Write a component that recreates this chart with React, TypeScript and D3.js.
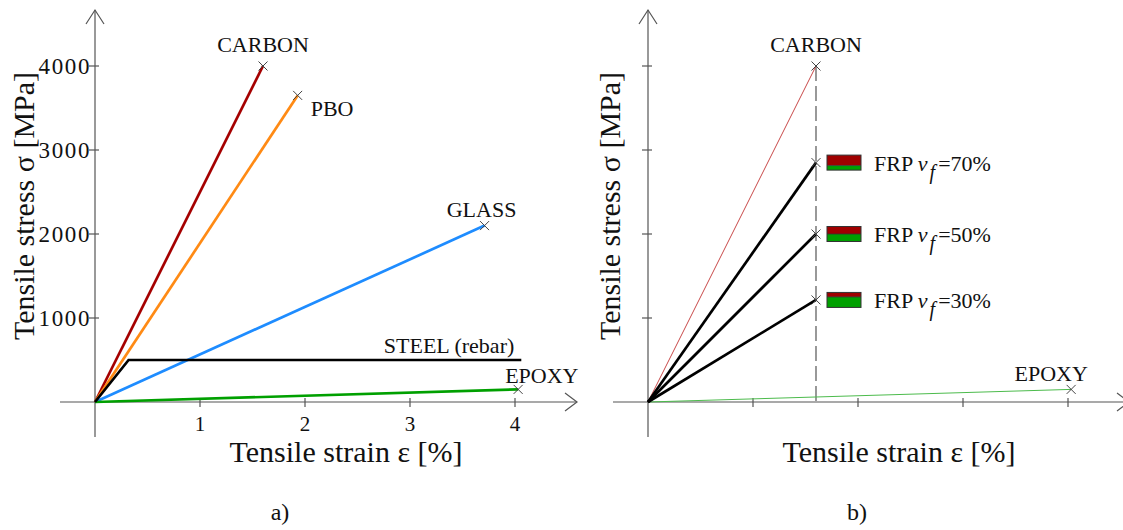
import React from "react";
import * as d3 from "d3";

// Axis ticks
const strainTicks = [1, 2, 3, 4];
const stressTicks = [1000, 2000, 3000, 4000];

// Linear-elastic materials: failure point (strain %, stress MPa)
const materialNames = ["CARBON", "PBO", "GLASS", "EPOXY"];
const failureStrain = [1.6, 1.93, 3.71, 4.03];
const failureStress = [4000, 3650, 2100, 150];

// Steel rebar: elastic-perfectly plastic
const steelStrain = [0, 0.32, 4.06];
const steelStress = [0, 500, 500];

// Carbon FRP laminates for several fibre volume fractions
const fibreVolume = [70, 50, 30];
const frpStrain = [1.6, 1.6, 1.6];
const frpStress = [2850, 2000, 1215];

const materialColor: Record<string, string> = {
  CARBON: "#a50000",
  PBO: "#ff8a14",
  GLASS: "#1e8cff",
  EPOXY: "#00a000",
};

const FONT = "'Liberation Serif', 'Times New Roman', serif";
const AXIS = "#555";

const W = 1123;
const H = 530;

const yScale = d3.scaleLinear().domain([0, 4000]).range([402, 66]);
const xLeft = d3.scaleLinear().domain([0, 4]).range([95, 515]);
const xRight = d3.scaleLinear().domain([0, 4]).range([648, 1068]);

function Cross({ x, y }: { x: number; y: number }) {
  const s = 4.5;
  return (
    <path
      d={`M${x - s},${y - s}L${x + s},${y + s}M${x - s},${y + s}L${x + s},${y - s}`}
      stroke="#444"
      strokeWidth={1}
      fill="none"
    />
  );
}

function Axes({
  x,
  xStart,
  xEnd,
  labels,
}: {
  x: d3.ScaleLinear<number, number>;
  xStart: number;
  xEnd: number;
  labels: boolean;
}) {
  const x0 = x(0);
  const y0 = yScale(0);
  return (
    <g stroke={AXIS} strokeWidth={1.2} fill="none">
      <line x1={x0} y1={437} x2={x0} y2={10} />
      <path d={`M${x0 - 9},24L${x0},10L${x0 + 9},24`} />
      <line x1={xStart} y1={y0} x2={xEnd} y2={y0} />
      <path d={`M${xEnd - 12},${y0 - 9}L${xEnd},${y0}L${xEnd - 12},${y0 + 9}`} />
      {stressTicks.map((t) => (
        <line key={"yt" + t} x1={x0 - 6} x2={x0 + 4} y1={yScale(t)} y2={yScale(t)} />
      ))}
      {strainTicks.map((t) => (
        <line key={"xt" + t} x1={x(t)} x2={x(t)} y1={y0 - 4} y2={y0 + 5} />
      ))}
      {labels &&
        stressTicks.map((t) => (
          <text
            key={"yl" + t}
            x={x0 - 4}
            y={yScale(t) + 8}
            textAnchor="end"
            fontSize={23}
            letterSpacing={1.6}
            fill="#111"
            stroke="none"
            fontFamily={FONT}
          >
            {t}
          </text>
        ))}
      {labels &&
        strainTicks.map((t) => (
          <text
            key={"xl" + t}
            x={x(t)}
            y={y0 + 29}
            textAnchor="middle"
            fontSize={21}
            fill="#111"
            stroke="none"
            fontFamily={FONT}
          >
            {t}
          </text>
        ))}
    </g>
  );
}

function Label({
  x,
  y,
  text,
  anchor = "start",
}: {
  x: number;
  y: number;
  text: string;
  anchor?: string;
}) {
  return (
    <text x={x} y={y} textAnchor={anchor} fontSize={22} fill="#111" fontFamily={FONT}>
      {text}
    </text>
  );
}

export default function App() {
  const line = (xs: d3.ScaleLinear<number, number>) =>
    d3
      .line<[number, number]>()
      .x((d) => xs(d[0]))
      .y((d) => yScale(d[1]));

  const lineL = line(xLeft);
  const lineR = line(xRight);

  const idx = (name: string) => materialNames.indexOf(name);
  const pt = (xs: d3.ScaleLinear<number, number>, name: string) => {
    const i = idx(name);
    return { x: xs(failureStrain[i]), y: yScale(failureStress[i]) };
  };

  const steelPts: [number, number][] = steelStrain.map((s, i) => [s, steelStress[i]]);

  // Label placement next to each failure point in panel a)
  const leftLabelOffset: Record<string, { dx: number; dy: number; anchor: string }> = {
    CARBON: { dx: 0, dy: -14, anchor: "middle" },
    PBO: { dx: 13, dy: 21, anchor: "start" },
    GLASS: { dx: -3, dy: -9, anchor: "middle" },
    EPOXY: { dx: -13, dy: -6, anchor: "start" },
  };

  const carbonR = pt(xRight, "CARBON");
  const epoxyR = pt(xRight, "EPOXY");

  return (
    <svg
      width={W}
      height={H}
      viewBox={`0 0 ${W} ${H}`}
      style={{ position: "absolute", left: 0, top: 0, background: "#fff" }}
    >
      <rect width={W} height={H} fill="#fff" />

      {/* ---------- Panel a) ---------- */}
      <Axes x={xLeft} xStart={60} xEnd={577} labels={true} />

      {materialNames.map((name, i) => (
        <path
          key={"l" + name}
          d={lineL([
            [0, 0],
            [failureStrain[i], failureStress[i]],
          ]) as string}
          stroke={materialColor[name]}
          strokeWidth={2.7}
          fill="none"
        />
      ))}
      <path d={lineL(steelPts) as string} stroke="#000" strokeWidth={2.7} fill="none" />

      {materialNames.map((name) => {
        const p = pt(xLeft, name);
        const o = leftLabelOffset[name];
        return (
          <g key={"m" + name}>
            <Cross x={p.x} y={p.y} />
            <Label x={p.x + o.dx} y={p.y + o.dy} text={name} anchor={o.anchor} />
          </g>
        );
      })}
      <Label
        x={xLeft(steelStrain[2]) - 7}
        y={yScale(steelStress[2]) - 7}
        text="STEEL (rebar)"
        anchor="end"
      />

      <text
        transform={`translate(34,206) rotate(-90)`}
        textAnchor="middle"
        fontSize={30}
        fill="#111"
        fontFamily={FONT}
      >
        Tensile stress σ [MPa]
      </text>
      <text x={346} y={462} textAnchor="middle" fontSize={30} fill="#111" fontFamily={FONT}>
        Tensile strain ε [%]
      </text>
      <text x={280} y={520} textAnchor="middle" fontSize={24} fill="#111" fontFamily={FONT}>
        a)
      </text>

      {/* ---------- Panel b) ---------- */}
      <Axes x={xRight} xStart={613} xEnd={1129} labels={false} />

      <line
        x1={carbonR.x}
        x2={carbonR.x}
        y1={carbonR.y}
        y2={yScale(0)}
        stroke={AXIS}
        strokeWidth={1.2}
        strokeDasharray="15,5"
      />

      <path
        d={lineR([
          [0, 0],
          [failureStrain[idx("CARBON")], failureStress[idx("CARBON")]],
        ]) as string}
        stroke="#c84848"
        strokeWidth={1}
        fill="none"
      />
      <path
        d={lineR([
          [0, 0],
          [failureStrain[idx("EPOXY")], failureStress[idx("EPOXY")]],
        ]) as string}
        stroke="#4cbb4c"
        strokeWidth={1}
        fill="none"
      />

      {fibreVolume.map((vf, i) => {
        const px = xRight(frpStrain[i]);
        const py = yScale(frpStress[i]);
        const rx = 827;
        const rw = 34;
        const rh = 15;
        const ry = py - rh / 2;
        const redH = (rh * vf) / 100;
        return (
          <g key={"frp" + vf}>
            <path
              d={lineR([
                [0, 0],
                [frpStrain[i], frpStress[i]],
              ]) as string}
              stroke="#000"
              strokeWidth={2.7}
              fill="none"
            />
            <Cross x={px} y={py} />
            <rect x={rx} y={ry} width={rw} height={redH} fill="#a00000" />
            <rect x={rx} y={ry + redH} width={rw} height={rh - redH} fill="#00a000" />
            <rect x={rx} y={ry} width={rw} height={rh} fill="none" stroke="#333" strokeWidth={1} />
            <line x1={rx} x2={rx + rw} y1={ry + redH} y2={ry + redH} stroke="#333" strokeWidth={0.8} />
            <text x={874} y={py + 8} fontSize={22} fill="#111" fontFamily={FONT}>
              FRP{" "}
              <tspan fontStyle="italic">v</tspan>
              <tspan fontStyle="italic" dx={2} dy={8} fontSize={20}>
                f
              </tspan>
              <tspan dx={3} dy={-8}>={vf}%</tspan>
            </text>
          </g>
        );
      })}

      <Cross x={carbonR.x} y={carbonR.y} />
      <Label x={carbonR.x} y={carbonR.y - 14} text="CARBON" anchor="middle" />
      <Cross x={epoxyR.x} y={epoxyR.y} />
      <Label x={epoxyR.x - 20} y={epoxyR.y - 8} text="EPOXY" anchor="middle" />

      <text
        transform={`translate(620,206) rotate(-90)`}
        textAnchor="middle"
        fontSize={30}
        fill="#111"
        fontFamily={FONT}
      >
        Tensile stress σ [MPa]
      </text>
      <text x={899} y={462} textAnchor="middle" fontSize={30} fill="#111" fontFamily={FONT}>
        Tensile strain ε [%]
      </text>
      <text x={857} y={520} textAnchor="middle" fontSize={24} fill="#111" fontFamily={FONT}>
        b)
      </text>
    </svg>
  );
}
